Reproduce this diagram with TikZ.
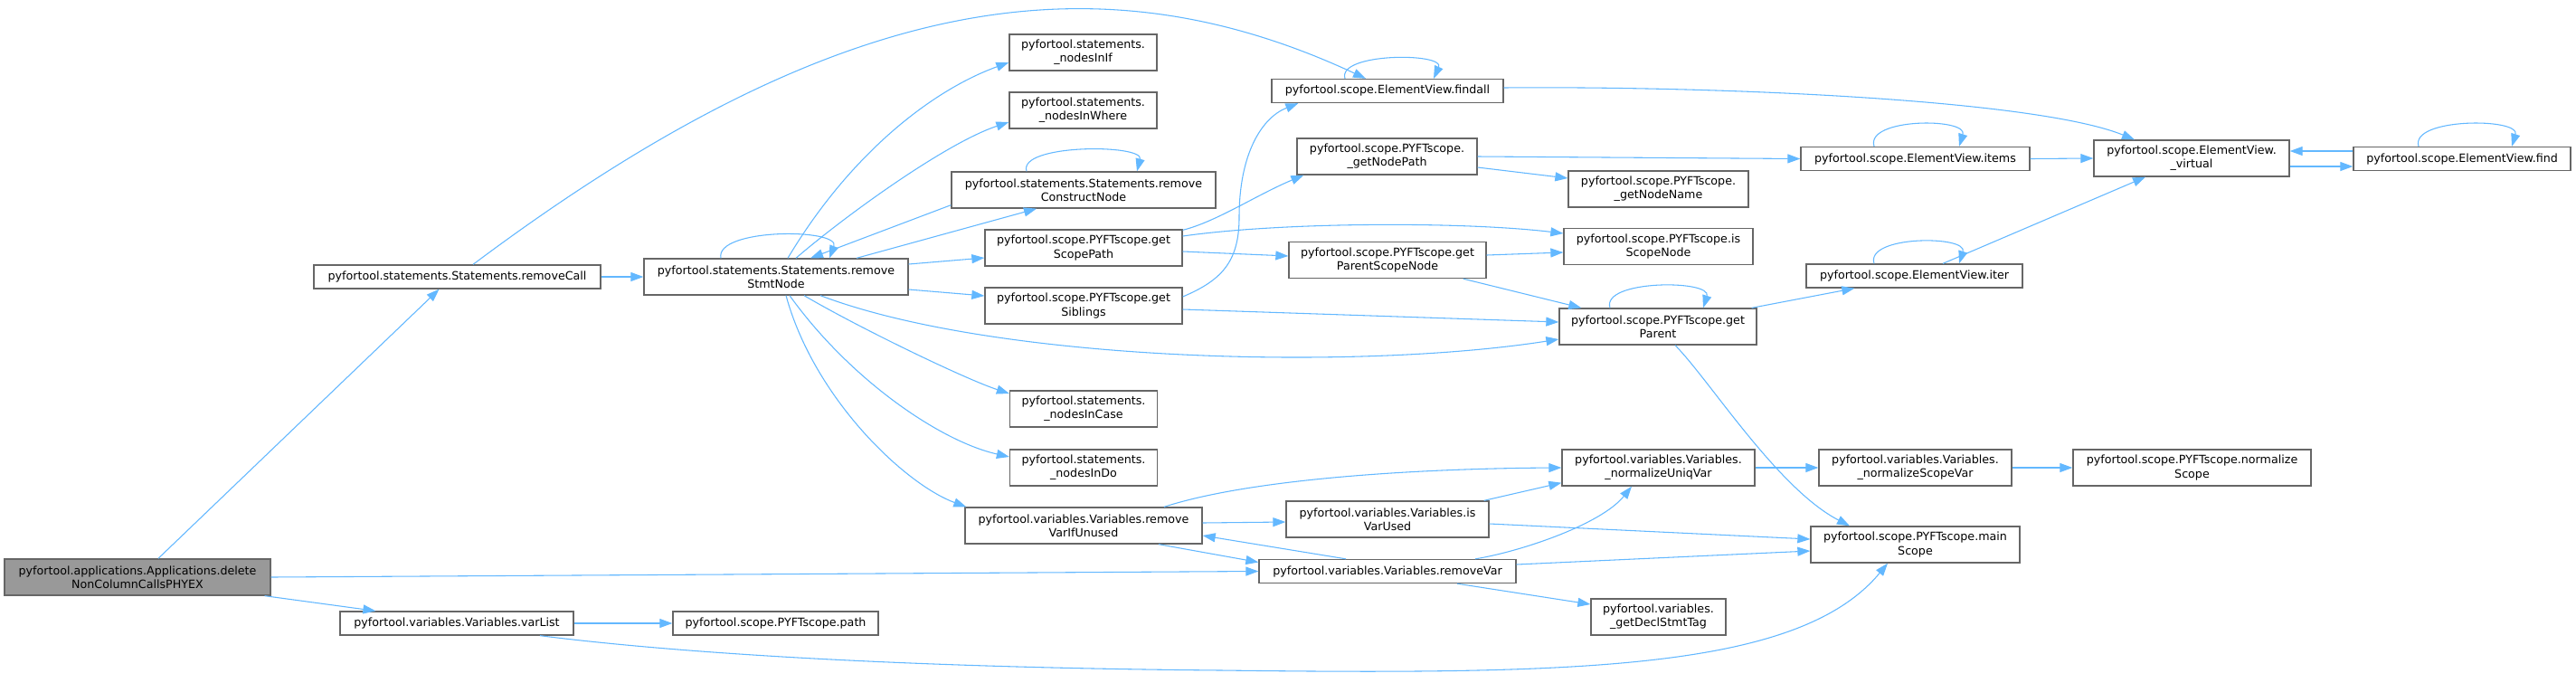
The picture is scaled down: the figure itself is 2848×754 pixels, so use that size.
\documentclass[tikz,border=0pt]{standalone}
\usepackage{fontspec}
\setmainfont{DejaVu Sans}
\usetikzlibrary{arrows.meta,calc}
\definecolor{edgeblue}{HTML}{63B8FF}
\definecolor{boxline}{HTML}{666666}
\definecolor{mainfill}{HTML}{999999}

\begin{document}
\begin{tikzpicture}[x=0.75pt, y=-0.75pt,
  fn/.style={draw=boxline, line width=1pt, fill=white, align=center, inner sep=0pt,
    font=\fontsize{9.5}{11.5}\selectfont},
  one/.style={minimum height=19.5pt},
  two/.style={minimum height=30pt},
  ed/.style={draw=edgeblue, line width=0.8pt, -{Triangle[length=10.5pt,width=7.5pt]}}]
\path[use as bounding box, fill=white] (0,0) rectangle (2848,754);

\node[fn, two, fill=mainfill, minimum width=220.5pt] (main) at (152,638) {pyfortool.applications.Applications.delete\\NonColumnCallsPHYEX};
\node[fn, one, minimum width=237.75pt] (rmcall) at (505.5,306) {pyfortool.statements.Statements.removeCall};
\node[fn, one, minimum width=193.5pt] (varlist) at (505,689) {pyfortool.variables.Variables.varList};
\node[fn, two, minimum width=219pt] (rmstmt) at (858,306) {pyfortool.statements.Statements.remove\\StmtNode};
\node[fn, one, minimum width=170.25pt] (ppath) at (857.5,689) {pyfortool.scope.PYFTscope.path};
\node[fn, two, minimum width=122.25pt] (inif) at (1197.5,58) {pyfortool.statements.\\\_nodesInIf};
\node[fn, two, minimum width=122.25pt] (inwhere) at (1197.5,122) {pyfortool.statements.\\\_nodesInWhere};
\node[fn, two, minimum width=219pt] (rmcons) at (1198,210) {pyfortool.statements.Statements.remove\\ConstructNode};
\node[fn, two, minimum width=163.5pt] (scpath) at (1198,274) {pyfortool.scope.PYFTscope.get\\ScopePath};
\node[fn, two, minimum width=163.5pt] (sibs) at (1198,338) {pyfortool.scope.PYFTscope.get\\Siblings};
\node[fn, two, minimum width=122.25pt] (incase) at (1198,452) {pyfortool.statements.\\\_nodesInCase};
\node[fn, two, minimum width=122.25pt] (indo) at (1198,517) {pyfortool.statements.\\\_nodesInDo};
\node[fn, two, minimum width=196.5pt] (rmunused) at (1198,581) {pyfortool.variables.Variables.remove\\VarIfUnused};
\node[fn, one, minimum width=192pt] (findall) at (1534,100.5) {pyfortool.scope.ElementView.findall};
\node[fn, two, minimum width=149.25pt] (nodepath) at (1533.5,173) {pyfortool.scope.PYFTscope.\\\_getNodePath};
\node[fn, two, minimum width=163.5pt] (parscope) at (1534,287.5) {pyfortool.scope.PYFTscope.get\\ParentScopeNode};
\node[fn, two, minimum width=168pt] (isused) at (1534,574) {pyfortool.variables.Variables.is\\VarUsed};
\node[fn, one, minimum width=213pt] (rmvar) at (1534,631.5) {pyfortool.variables.Variables.removeVar};
\node[fn, two, minimum width=149.25pt] (nodename) at (1833.5,209) {pyfortool.scope.PYFTscope.\\\_getNodeName};
\node[fn, two, minimum width=156.75pt] (isscope) at (1833.5,272.5) {pyfortool.scope.PYFTscope.is\\ScopeNode};
\node[fn, two, minimum width=163.5pt] (parent) at (1833,361) {pyfortool.scope.PYFTscope.get\\Parent};
\node[fn, two, minimum width=159.75pt] (normuniq) at (1833.5,517) {pyfortool.variables.Variables.\\\_normalizeUniqVar};
\node[fn, two, minimum width=111.75pt] (decltag) at (1833.5,682) {pyfortool.variables.\\\_getDeclStmtTag};
\node[fn, one, minimum width=189.75pt] (items) at (2117.5,175.5) {pyfortool.scope.ElementView.items};
\node[fn, one, minimum width=179.25pt] (iter) at (2116.5,305) {pyfortool.scope.ElementView.iter};
\node[fn, two, minimum width=159.75pt] (normscvar) at (2117.5,517) {pyfortool.variables.Variables.\\\_normalizeScopeVar};
\node[fn, two, minimum width=173.25pt] (mainscope) at (2117.5,602) {pyfortool.scope.PYFTscope.main\\Scope};
\node[fn, two, minimum width=162pt] (virtual) at (2423,175) {pyfortool.scope.ElementView.\\\_virtual};
\node[fn, two, minimum width=197.25pt] (normscope) at (2423.5,517) {pyfortool.scope.PYFTscope.normalize\\Scope};
\node[fn, one, minimum width=180pt] (find) at (2722,175.5) {pyfortool.scope.ElementView.find};

\draw[ed] ($(main.north)+(23,0)$) -- ($(rmcall.south)+(-20,0)$);
\draw[ed] (main.east) -- (rmvar.west);
\draw[ed] ($(main.south east)+(-7,0)$) -- ($(varlist.north west)+(40,0)$);
\draw[ed] (rmcall) -- (rmstmt);
\draw[ed] ($(rmcall.north)+(17.5,0)$) .. controls (923,-7) and (1210,-53) .. ($(findall.north)+(-24,0)$);
\draw[ed] ($(rmstmt.north)+(-61,0)$) .. controls (790,252) and (930,252) .. ($(rmstmt.north)+(59,0)$);
\draw[ed] ($(rmstmt.north)+(13,0)$) .. controls (940,170) and (1030,100) .. ($(inif.west)+(0,11)$);
\draw[ed] ($(rmstmt.north)+(22,0)$) .. controls (935,238) and (1046,158) .. ($(inwhere.west)+(0,13)$);
\draw[ed] ($(rmcons.south west)+(0,-4)$) -- ($(rmstmt.north)+(38,0)$);
\draw[ed] ($(rmstmt.north)+(89,0)$) -- ($(rmcons.south)+(-52,0)$);
\draw[ed] ($(rmcons.north)+(-63,0)$) .. controls (1125,159) and (1265,159) .. ($(rmcons.north)+(59,0)$);
\draw[ed] ($(rmstmt.east)+(0,-14)$) -- ($(scpath.west)+(0,11)$);
\draw[ed] ($(rmstmt.east)+(0,14)$) -- ($(sibs.west)+(0,-11)$);
\draw[ed] ($(rmstmt.south)+(49,0)$) .. controls (1100,400) and (1500,410) .. ($(parent.west)+(0,14)$);
\draw[ed] ($(rmstmt.south)+(31,0)$) .. controls (949,362) and (1067,419) .. ($(incase.west)+(0,-17)$);
\draw[ed] ($(rmstmt.south)+(15,0)$) .. controls (940,420) and (1040,488) .. ($(indo.west)+(0,-12)$);
\draw[ed] ($(rmstmt.south)+(11,0)$) .. controls (900,440) and (1000,535) .. ($(rmunused.north west)+(2,0)$);
\draw[ed] ($(scpath.north east)+(0,1)$) .. controls (1345,245) and (1390,215) .. ($(nodepath.south west)+(8,0)$);
\draw[ed] ($(scpath.east)+(0,-13)$) .. controls (1420,245) and (1620,245) .. ($(isscope.west)+(0,-14.5)$);
\draw[ed] ($(scpath.east)+(0,4)$) -- ($(parscope.west)+(0,-4.5)$);
\draw[ed] ($(sibs.east)+(0,-10)$) .. controls (1350,310) and (1370,290) .. (1370,240)
  .. controls (1370,170) and (1395,130) .. ($(findall.south west)+(30,0)$);
\draw[ed] ($(sibs.east)+(0,4)$) -- ($(parent.west)+(0,-5)$);
\draw[ed] ($(nodepath.east)+(0,0)$) -- (items.west);
\draw[ed] ($(nodepath.east)+(0,12)$) -- ($(nodename.west)+(0,-12)$);
\draw[ed] ($(parscope.east)+(0,-5.5)$) -- ($(isscope.west)+(0,6.5)$);
\draw[ed] ($(parscope.south east)+(-26,0)$) -- ($(parent.north west)+(25,0)$);
\draw[ed] ($(findall.north)+(-47,0)$) .. controls (1478,58) and (1598,58) .. ($(findall.north)+(51,0)$);
\draw[ed] ($(findall.east)+(0,-3.5)$) .. controls (1900,95) and (2250,110) .. ($(virtual.north)+(-63,0)$);
\draw[ed] ($(items.north)+(-45.5,0)$) .. controls (2062,130) and (2176,130) .. ($(items.north)+(48.5,0)$);
\draw[ed] (items.east) -- (virtual.west);
\draw[ed] ($(virtual.east)+(0,9)$) -- ($(find.west)+(0,8.5)$);
\draw[ed] ($(find.west)+(0,-8.5)$) -- ($(virtual.east)+(0,-8)$);
\draw[ed] ($(find.north)+(-48,0)$) .. controls (2664,130) and (2787,130) .. ($(find.north)+(55,0)$);
\draw[ed] ($(iter.north)+(-44.5,0)$) .. controls (2062,260) and (2176,260) .. ($(iter.north)+(49.5,0)$);
\draw[ed] ($(iter.north)+(31.5,0)$) -- ($(virtual.south)+(-51,0)$);
\draw[ed] ($(parent.north)+(-53,0)$) .. controls (1770,309) and (1893,309) .. ($(parent.north)+(50,0)$);
\draw[ed] ($(parent.north east)+(-6,0)$) -- ($(iter.south west)+(54,0)$);
\draw[ed] ($(parent.south)+(19,0)$) .. controls (1890,420) and (1965,540) .. ($(mainscope.north)+(-72.5,0)$);
\draw[ed] ($(rmunused.north)+(89,0)$) .. controls (1380,530) and (1560,518) .. (normuniq.west);
\draw[ed] ($(rmunused.east)+(0,-3)$) -- ($(isused.west)+(0,3)$);
\draw[ed] ($(rmunused.south)+(83,0)$) -- ($(rmvar.west)+(0,-10)$);
\draw[ed] ($(rmvar.north)+(-46,0)$) -- ($(rmunused.east)+(0,11)$);
\draw[ed] ($(rmvar.north)+(97,0)$) .. controls (1680,610) and (1770,580) .. ($(normuniq.south)+(-29.5,0)$);
\draw[ed] ($(rmvar.east)+(0,-7.5)$) -- ($(mainscope.west)+(0,7)$);
\draw[ed] ($(rmvar.south)+(77,0)$) -- ($(decltag.west)+(0,-14)$);
\draw[ed] ($(isused.north east)+(-6,0)$) -- ($(normuniq.south west)+(0,-4)$);
\draw[ed] ($(isused.east)+(0,5)$) -- ($(mainscope.west)+(0,-6)$);
\draw[ed] (normuniq) -- (normscvar);
\draw[ed] (normscvar) -- (normscope);
\draw[ed] (varlist) -- (ppath);
\draw[ed] ($(varlist.south)+(92,0)$) .. controls (750,722) and (1000,738) .. (1350,741)
  .. controls (1750,746) and (1990,740) .. ($(mainscope.south)+(-30.5,0)$);
\end{tikzpicture}
\end{document}
